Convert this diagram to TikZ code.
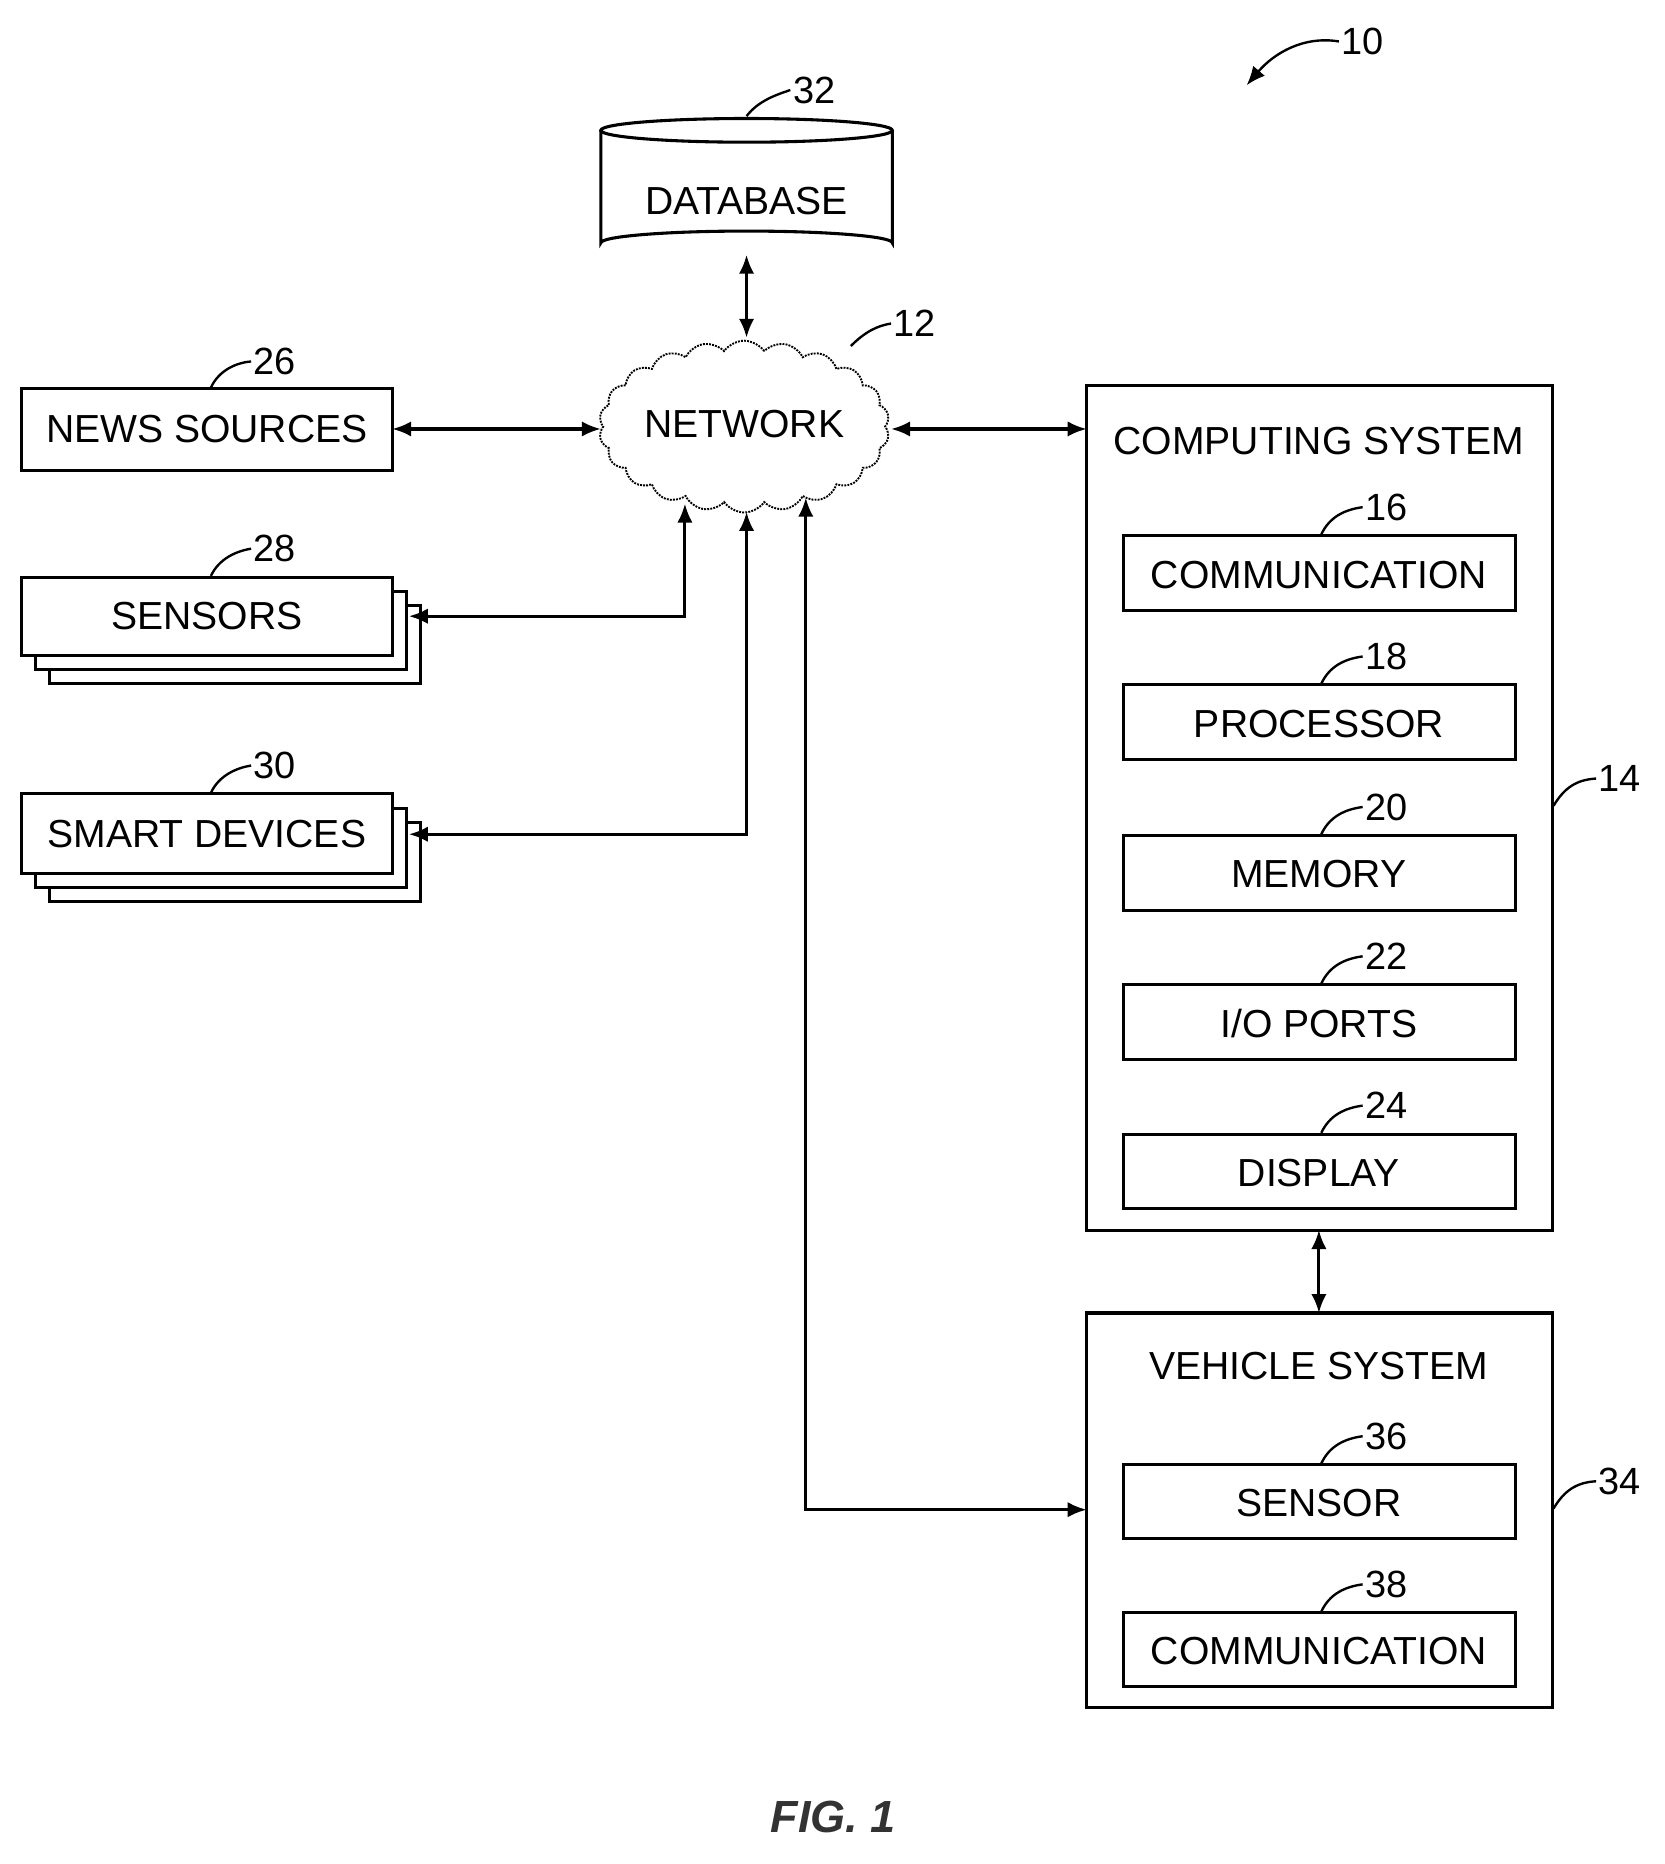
\documentclass[tikz,border=0pt]{standalone}
\usepackage{fontspec}
\setmainfont{Liberation Sans}
\usetikzlibrary{shapes.symbols,arrows.meta}
\begin{document}
\begin{tikzpicture}[x=1pt,y=-1pt,line width=2.6pt,
  txt/.style={font=\fontsize{33}{36}\selectfont},
  box/.style={draw,rectangle,minimum height=0pt,inner sep=0pt},
  lbl/.style={font=\fontsize{32}{34}\selectfont,inner sep=1pt},
  lead/.style={line width=2pt},
  arr/.style={{Latex[length=16pt,width=13pt]}-{Latex[length=16pt,width=13pt]}},
  oarr/.style={-{Latex[length=16pt,width=13pt]}}]
\useasboundingbox (0,0) rectangle (1405,1573);
% database
\draw[fill=white] (507,110) -- (507,205) arc[start angle=180,end angle=360,x radius=123,y radius=10] -- (753,110);
\draw (630,110) ellipse[x radius=123,y radius=10];
\node[txt] (db) at (630,170) {DATABASE};
\coordinate (dbb) at (630,215);
\node[lbl] (l32) at (687,76) {32};
\draw[lead] (630,98) .. controls (640,85) and (655,80) .. (l32.west);
% cloud
\node[cloud,draw,cloud puffs=22,cloud puff arc=110,aspect=1.7,minimum width=245pt,minimum height=145pt,line width=1.6pt,densely dotted] (net) at (628,360) {};
\node[txt] at (628,358) {NETWORK};
\node[lbl] (l12) at (772,273) {12};
\draw[lead] (718,292) .. controls (730,280) and (740,275) .. (l12.west);
% left boxes
\draw (18,328) rectangle (331,397); \node[txt] (news) at (174.5,362) {NEWS SOURCES};
\coordinate (newsE) at (331,362);
\node[lbl] (l26) at (232,305) {26};
\draw[lead] (178,327) .. controls (185,312) and (200,306) .. (l26.west);
\foreach \d in {24,12,0}{\draw[fill=white] (18+\d,487+\d) rectangle (331+\d,553+\d);}
\node[txt] (sens) at (174.5,520) {SENSORS};
\coordinate (sensE) at (345,520);
\node[lbl] (l28) at (232,463) {28};
\draw[lead] (178,486) .. controls (185,471) and (200,465) .. (l28.west);
\foreach \d in {24,12,0}{\draw[fill=white] (18+\d,670+\d) rectangle (331+\d,737+\d);}
\node[txt] (smart) at (174.5,704) {SMART DEVICES};
\coordinate (smartE) at (345,704);
\node[lbl] (l30) at (232,646) {30};
\draw[lead] (178,669) .. controls (185,654) and (200,648) .. (l30.west);
% computing system
\draw (917,325) rectangle (1310,1038);
\node[txt] (cs) at (1113,372) {COMPUTING SYSTEM};
\coordinate (csW) at (917,362);
\coordinate (csS) at (1113,1038);
\node[lbl] (l14) at (1367,657) {14};
\draw[lead] (1311,680) .. controls (1320,665) and (1330,658) .. (l14.west);
\foreach \y/\t/\n in {452/COMMUNICATION/16,578/PROCESSOR/18,705/MEMORY/20,831/I\slash O PORTS/22,957/DISPLAY/24}{
  \draw (948,\y) rectangle (1279,\y+63);
  \node[txt] at (1113,\y+33) {\t};
  \node[lbl] (n\n) at (1170,\y-24) {\n};
  \draw[lead] (1115,\y-1) .. controls (1122,\y-16) and (1135,\y-22) .. (n\n.west);
}
% vehicle system
\draw (917,1108) rectangle (1310,1441);
\node[txt] (vs) at (1113,1153) {VEHICLE SYSTEM};
\coordinate (vsN) at (1113,1108);
\coordinate (vsW) at (917,1274);
\node[lbl] (l34) at (1367,1250) {34};
\draw[lead] (1311,1273) .. controls (1320,1258) and (1330,1251) .. (l34.west);
\foreach \y/\t/\n in {1236/SENSOR/36,1361/COMMUNICATION/38}{
  \draw (948,\y) rectangle (1279,\y+62);
  \node[txt] at (1113,\y+32) {\t};
  \node[lbl] (n\n) at (1170,\y-24) {\n};
  \draw[lead] (1115,\y-1) .. controls (1122,\y-16) and (1135,\y-22) .. (n\n.west);
}
% connectors
\coordinate (netN) at (630,285);
\coordinate (netW) at (507,362);
\coordinate (netE) at (752,362);
\draw[arr] (dbb) -- (netN);
\draw[arr] (newsE) -- (netW);
\draw[arr] (netE) -- (csW);
\draw[arr] (sensE) -- (578,520) -- (578,425);
\draw[arr] (smartE) -- (630,704) -- (630,432);
\draw[arr] (680,420) -- (680,1274) -- (vsW);
\draw[arr] (csS) -- (vsN);
% ref 10
\node[lbl] (l10) at (1150,35) {10};
\draw[lead,oarr] (l10.west) .. controls (1100,30) and (1075,45) .. (1052,72);
\node[font=\fontsize{38}{40}\selectfont\itshape\bfseries,text=black!80] (fig) at (703,1533) {FIG. 1};
\end{tikzpicture}
\end{document}
